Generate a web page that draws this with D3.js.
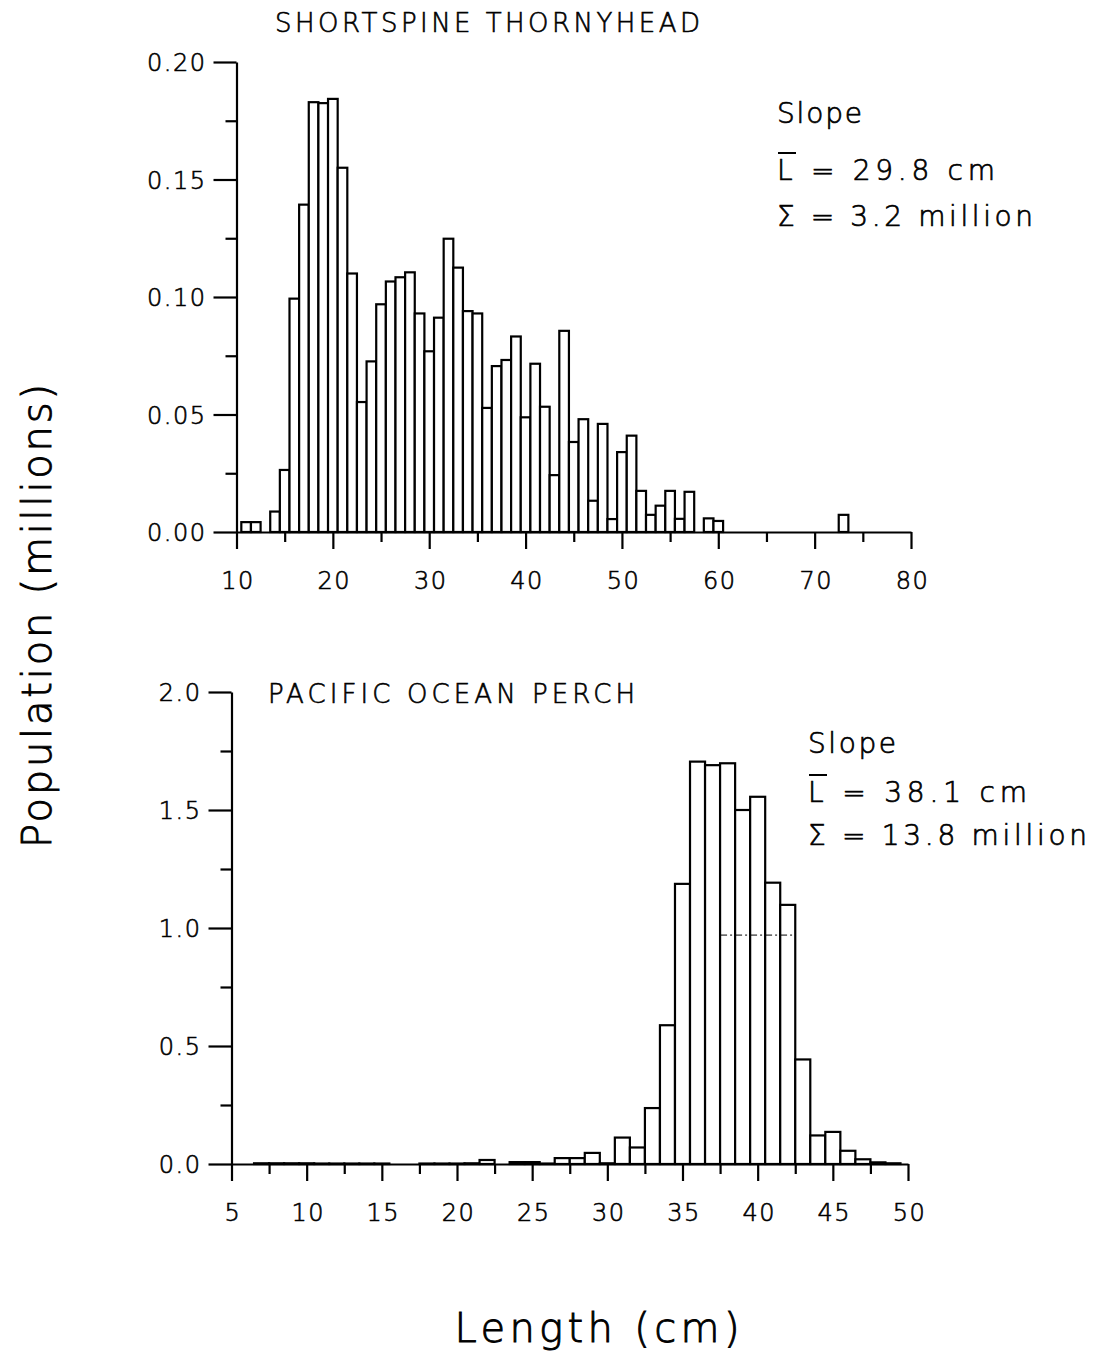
<!DOCTYPE html>
<html>
<head>
<meta charset="utf-8">
<script src="https://cdn.jsdelivr.net/npm/d3@7"></script>
<style>
  body { margin: 0; background: #fff; }
  text { font-family: "DejaVu Sans", sans-serif; fill: #000; }
</style>
</head>
<body>
<svg id="chart" width="1093" height="1368"></svg>
<script>
// Shortspine thornyhead, slope survey: population (millions) by 1-cm length class
const thornyLengths = [11,12,13,14,15,16,17,18,19,20,21,22,23,24,25,26,27,28,29,30,
                       31,32,33,34,35,36,37,38,39,40,41,42,43,44,45,46,47,48,49,50,
                       51,52,53,54,55,56,57,58,59,60,73];
const thornyValues  = [0.0042,0.0042,0,0.0087,0.0264,0.0993,0.1393,0.1829,0.1825,0.1843,
                       0.1550,0.1100,0.0553,0.0726,0.0969,0.1066,0.1084,0.1105,0.0930,0.0769,
                       0.0912,0.1248,0.1125,0.0940,0.0930,0.0528,0.0706,0.0732,0.0832,0.0488,
                       0.0716,0.0533,0.0242,0.0856,0.0383,0.0480,0.0133,0.0460,0.0055,0.0340,
                       0.0410,0.0175,0.0073,0.0112,0.0175,0.0056,0.0171,0,0.0058,0.0047,0.0073];

// Pacific ocean perch, slope survey
const perchLengths = d3.range(7, 50);
const perchValues  = [0.003,0.003,0.003,0.003,0.002,0.002,0.002,0.002,0.002,0,0,
                      0.002,0.002,0.002,0.003,0.017,0,0.008,0.008,0.002,0.025,0.025,
                      0.047,0.003,0.112,0.070,0.237,0.588,1.187,1.705,1.690,1.698,
                      1.500,1.556,1.192,1.098,0.443,0.121,0.136,0.056,0.020,0.007,0.003];

// dash-dot reference segment drawn across the perch mode
const perchRefLengths = [37.5, 42.5];
const perchRefValue = 0.97;

// axis ticks
const thornyXMajor = [10,20,30,40,50,60,70,80];
const thornyXMinor = [15,25,35,45,55,65,75];
const thornyYMajor = [0, 0.05, 0.10, 0.15, 0.20];
const thornyYMinor = [0.025, 0.075, 0.125, 0.175];
const perchXMajor = [5,10,15,20,25,30,35,40,45,50];
const perchXMinor = [7.5,12.5,17.5,22.5,27.5,32.5,37.5,42.5,47.5];
const perchYMajor = [0, 0.5, 1.0, 1.5, 2.0];
const perchYMinor = [0.25, 0.75, 1.25, 1.75];

const svg = d3.select("#chart");

// thin plotter-style lettering: light face with a fine outline
const pen = (sel, w) => sel.attr("font-weight", 200).attr("stroke", "#000").attr("stroke-width", w);

function panel(cfg) {
  const x = d3.scaleLinear().domain(cfg.xDomain).range([cfg.left, cfg.right]);
  const y = d3.scaleLinear().domain(cfg.yDomain).range([cfg.bottom, cfg.top]);
  const g = svg.append("g");

  // bars
  const data = cfg.lengths.map((l, i) => ({ l, v: cfg.values[i] })).filter(d => d.v > 0);
  g.append("g").selectAll("rect").data(data).join("rect")
    .attr("x", d => x(d.l - 0.5))
    .attr("width", d => x(d.l + 0.5) - x(d.l - 0.5))
    .attr("y", d => y(d.v))
    .attr("height", d => y(0) - y(d.v))
    .attr("fill", "#fff")
    .attr("stroke", "#000")
    .attr("stroke-width", 2.2);

  if (cfg.refLengths) {
    g.append("line")
      .attr("x1", x(cfg.refLengths[0])).attr("x2", x(cfg.refLengths[1]))
      .attr("y1", y(cfg.refValue)).attr("y2", y(cfg.refValue))
      .attr("stroke", "#000").attr("stroke-width", 1)
      .attr("stroke-dasharray", "7,3,2,3");
  }

  // axes
  const styleAxis = sel => {
    sel.selectAll("path.domain").attr("stroke", "#000").attr("stroke-width", 2.2);
    sel.selectAll(".tick line").attr("stroke", "#000").attr("stroke-width", 2.2);
    sel.selectAll(".tick text")
      .attr("font-family", "DejaVu Sans, sans-serif")
      .attr("font-size", 24)
      .attr("letter-spacing", 1.5)
      .attr("fill", "#000")
      .call(pen, 0.6);
  };

  const xMajor = d3.axisBottom(x).tickValues(cfg.xMajor).tickSize(17).tickSizeOuter(0)
    .tickPadding(cfg.xPad).tickFormat(d3.format("d"));
  const xMinor = d3.axisBottom(x).tickValues(cfg.xMinor).tickSize(10).tickFormat("");
  const yMajor = d3.axisLeft(y).tickValues(cfg.yMajor).tickSize(23).tickSizeOuter(0)
    .tickPadding(7).tickFormat(d3.format(cfg.yFormat));
  const yMinor = d3.axisLeft(y).tickValues(cfg.yMinor).tickSize(11).tickFormat("");

  const gx = g.append("g").attr("transform", `translate(0,${cfg.bottom})`).call(xMajor).call(styleAxis);
  const gx2 = g.append("g").attr("transform", `translate(0,${cfg.bottom})`).call(xMinor).call(styleAxis);
  gx2.select("path.domain").remove();
  gx.selectAll(".tick text").attr("dx", 1);
  const gy = g.append("g").attr("transform", `translate(${cfg.left},0)`).call(yMajor).call(styleAxis);
  const gy2 = g.append("g").attr("transform", `translate(${cfg.left},0)`).call(yMinor).call(styleAxis);
  gy2.select("path.domain").remove();
  gy.selectAll(".tick text").attr("dy", "0.36em");

  // title
  g.append("text").attr("x", cfg.title.x).attr("y", cfg.title.y)
    .attr("font-size", 26).call(pen, 0.6)
    .attr("textLength", cfg.title.w).attr("lengthAdjust", "spacing")
    .text(cfg.title.text);

  // annotation block
  const a = cfg.note;
  const line = (yy, w, s) => g.append("text").attr("x", a.x).attr("y", yy)
    .attr("font-size", 28).call(pen, 0.7)
    .attr("textLength", w).attr("lengthAdjust", "spacing").text(s);
  line(a.y[0], a.w[0], "Slope");
  line(a.y[1], a.w[1], a.mean);
  line(a.y[2], a.w[2], a.total);
  // bar over the L
  g.append("line").attr("x1", a.x + 1).attr("x2", a.x + 19)
    .attr("y1", a.y[1] - 27).attr("y2", a.y[1] - 27)
    .attr("stroke", "#000").attr("stroke-width", 2);
}

panel({
  lengths: thornyLengths, values: thornyValues,
  xDomain: [10, 80], yDomain: [0, 0.20],
  left: 236.5, right: 911, top: 62, bottom: 532,
  xMajor: thornyXMajor, xMinor: thornyXMinor, yMajor: thornyYMajor, yMinor: thornyYMinor,
  yFormat: ".2f", xPad: 23,
  title: { text: "SHORTSPINE THORNYHEAD", x: 275, y: 32, w: 425 },
  note: { x: 777, y: [123, 180, 226], w: [85, 218, 256],
          mean: "L = 29.8 cm", total: "Σ = 3.2 million" }
});

panel({
  lengths: perchLengths, values: perchValues,
  refLengths: perchRefLengths, refValue: perchRefValue,
  xDomain: [5, 50], yDomain: [0, 2.0],
  left: 231.5, right: 908, top: 692, bottom: 1164,
  xMajor: perchXMajor, xMinor: perchXMinor, yMajor: perchYMajor, yMinor: perchYMinor,
  yFormat: ".1f", xPad: 23,
  title: { text: "PACIFIC OCEAN PERCH", x: 268, y: 703, w: 367 },
  note: { x: 808, y: [753, 802, 845], w: [88, 219, 279],
          mean: "L = 38.1 cm", total: "Σ = 13.8 million" }
});

// shared axis titles
svg.append("text")
  .attr("transform", "translate(51,616) rotate(-90)")
  .attr("text-anchor", "middle")
  .attr("font-size", 40).call(pen, 0.9)
  .attr("textLength", 464).attr("lengthAdjust", "spacing")
  .text("Population (millions)");

svg.append("text")
  .attr("x", 597).attr("y", 1342)
  .attr("text-anchor", "middle")
  .attr("font-size", 40).call(pen, 0.9)
  .attr("textLength", 285).attr("lengthAdjust", "spacing")
  .text("Length (cm)");
</script>
</body>
</html>
